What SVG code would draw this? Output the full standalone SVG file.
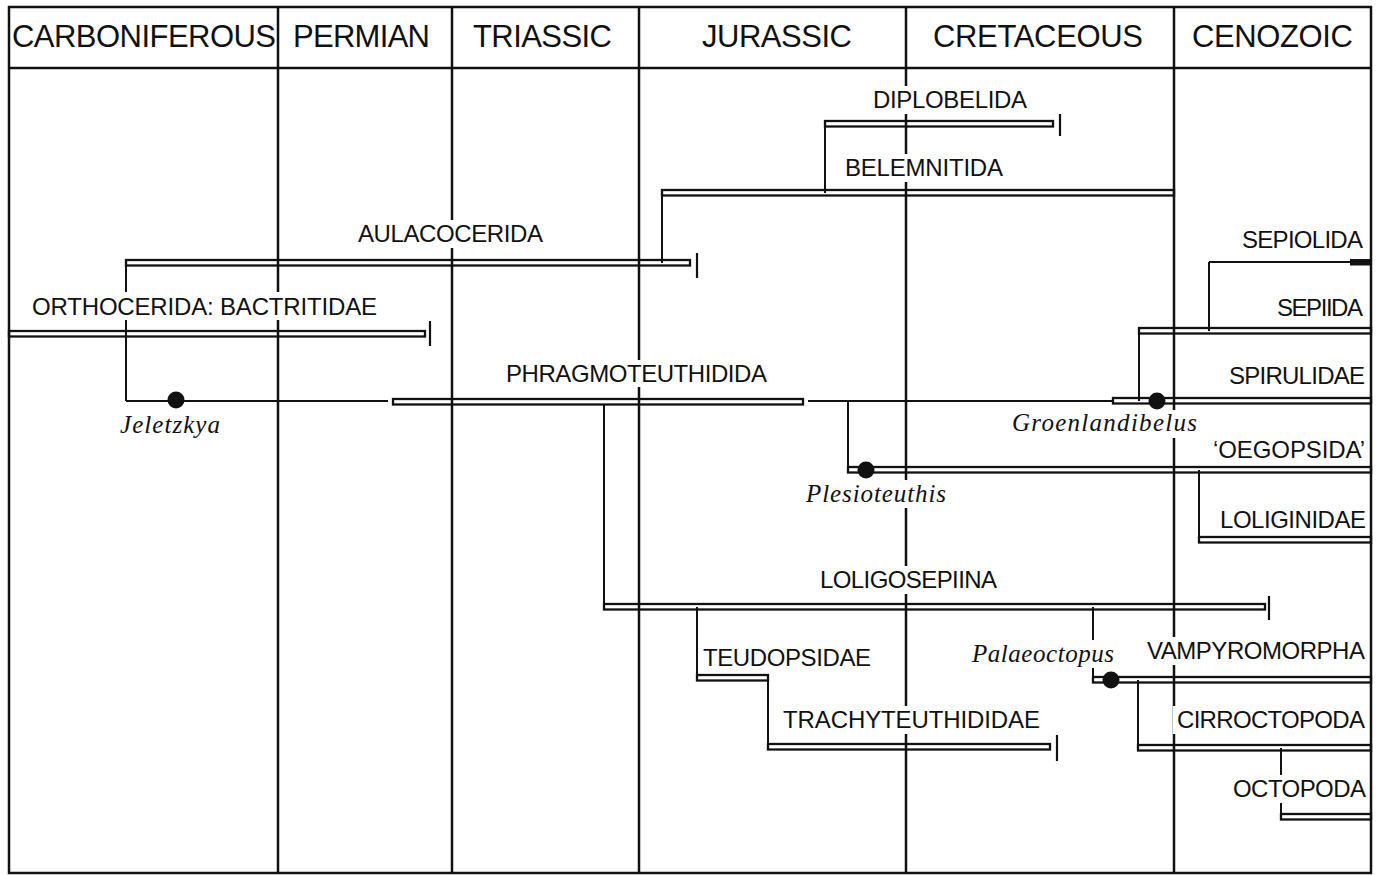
<svg xmlns="http://www.w3.org/2000/svg" width="1378" height="875" viewBox="0 0 1378 875">
<style>
.frame{fill:none;stroke:#111;stroke-width:2.5}
.div{stroke:#111;stroke-width:2.5;fill:none}
.con{stroke:#111;stroke-width:2;fill:none}
.bar{fill:none;stroke:#111;stroke-width:2.3}
.tick{stroke:#111;stroke-width:2.2}
.mask{fill:#fff}
.hd{font-family:"Liberation Sans",Arial,sans-serif;font-size:31px;fill:#111}
.lb{font-family:"Liberation Sans",Arial,sans-serif;font-size:24px;fill:#111}
.it{font-family:"Liberation Serif","Times New Roman",serif;font-style:italic;font-size:25px;fill:#111}
.dot{fill:#111}
</style>
<rect width="1378" height="875" fill="#fff"/>
<g id="timescale">
<rect class="frame" x="9" y="7" width="1362" height="866"/>
<line class="div" x1="9" y1="68" x2="1371" y2="68"/>
<line class="div" x1="278" y1="7" x2="278" y2="873"/>
<line class="div" x1="452" y1="7" x2="452" y2="873"/>
<line class="div" x1="639" y1="7" x2="639" y2="873"/>
<line class="div" x1="906" y1="7" x2="906" y2="873"/>
<line class="div" x1="1174" y1="7" x2="1174" y2="873"/>
<text class="hd" x="12" y="47" textLength="264">CARBONIFEROUS</text>
<text class="hd" x="293" y="47" textLength="137">PERMIAN</text>
<text class="hd" x="473" y="47" textLength="139">TRIASSIC</text>
<text class="hd" x="702" y="47" textLength="150">JURASSIC</text>
<text class="hd" x="933" y="47" textLength="210">CRETACEOUS</text>
<text class="hd" x="1192" y="47" textLength="161">CENOZOIC</text>
</g>
<g id="connectors">
<line class="con" x1="825" y1="124" x2="825" y2="193"/>
<line class="con" x1="662" y1="193" x2="662" y2="263"/>
<line class="con" x1="126" y1="263" x2="126" y2="401"/>
<line class="con" x1="126" y1="401" x2="388" y2="401"/>
<line class="con" x1="808" y1="401" x2="1113" y2="401"/>
<line class="con" x1="604" y1="404" x2="604" y2="607"/>
<line class="con" x1="848" y1="401" x2="848" y2="470"/>
<line class="con" x1="1139" y1="331" x2="1139" y2="401"/>
<line class="con" x1="1209" y1="262" x2="1209" y2="331"/>
<line class="con" x1="1209" y1="262" x2="1350" y2="262"/>
<line class="con" x1="1199" y1="470" x2="1199" y2="540"/>
<line class="con" x1="697" y1="607" x2="697" y2="678"/>
<line class="con" x1="768" y1="678" x2="768" y2="747"/>
<line class="con" x1="1093" y1="607" x2="1093" y2="680"/>
<line class="con" x1="1138" y1="680" x2="1138" y2="748"/>
<line class="con" x1="1281" y1="748" x2="1281" y2="817"/>
</g>
<g id="label-masks">
<rect class="mask" x="870" y="86" width="160" height="28"/>
<rect class="mask" x="842" y="154" width="164" height="28"/>
<rect class="mask" x="355" y="220" width="191" height="28"/>
<rect class="mask" x="29" y="292" width="351" height="28"/>
<rect class="mask" x="503" y="360" width="267" height="27"/>
<rect class="mask" x="1010" y="410" width="190" height="28"/>
<rect class="mask" x="804" y="480" width="144" height="28"/>
<rect class="mask" x="817" y="566" width="183" height="28"/>
<rect class="mask" x="701" y="644" width="172" height="28"/>
<rect class="mask" x="970" y="640" width="146" height="28"/>
<rect class="mask" x="1145" y="637" width="222" height="28"/>
<rect class="mask" x="780" y="706" width="263" height="28"/>
<rect class="mask" x="1173" y="706" width="194" height="28"/>
<rect class="mask" x="1230" y="775" width="138" height="28"/>
</g>
<g id="diplobelida">
<text class="lb" x="873" y="108" textLength="154">DIPLOBELIDA</text>
<rect class="bar" x="825" y="121" width="228" height="5.5"/>
<line class="tick" x1="1060" y1="114" x2="1060" y2="136"/>
</g>
<g id="belemnitida">
<text class="lb" x="845" y="176" textLength="158">BELEMNITIDA</text>
<rect class="bar" x="662" y="190" width="512" height="5.5"/>
</g>
<g id="aulacocerida">
<text class="lb" x="358" y="242" textLength="185">AULACOCERIDA</text>
<rect class="bar" x="126" y="260" width="564" height="5.5"/>
<line class="tick" x1="697" y1="253" x2="697" y2="278"/>
</g>
<g id="orthocerida">
<text class="lb" x="32" y="315" textLength="345">ORTHOCERIDA: BACTRITIDAE</text>
<rect class="bar" x="9" y="331" width="416" height="5.5"/>
<line class="tick" x1="430" y1="321" x2="430" y2="346"/>
</g>
<g id="jeletzkya">
<circle class="dot" cx="176" cy="400" r="8.5"/>
<text class="it" x="120" y="433" textLength="100">Jeletzkya</text>
</g>
<g id="phragmoteuthidida">
<text class="lb" x="506" y="382" textLength="261">PHRAGMOTEUTHIDIDA</text>
<rect class="bar" x="393" y="399" width="410" height="5.5"/>
</g>
<g id="sepiolida">
<text class="lb" x="1242" y="248" textLength="121">SEPIOLIDA</text>
<rect x="1350" y="259" width="21" height="6.5" fill="#111"/>
</g>
<g id="sepiida">
<text class="lb" x="1277" y="316" textLength="86">SEPIIDA</text>
<rect class="bar" x="1139" y="328" width="232" height="5.5"/>
</g>
<g id="spirulidae">
<text class="lb" x="1229" y="384" textLength="136">SPIRULIDAE</text>
<rect class="bar" x="1113" y="398" width="258" height="5.5"/>
</g>
<g id="groenlandibelus">
<circle class="dot" cx="1157" cy="401" r="8.5"/>
<text class="it" x="1012" y="431" textLength="185">Groenlandibelus</text>
</g>
<g id="oegopsida">
<text class="lb" x="1213" y="458" textLength="152">‘OEGOPSIDA’</text>
<rect class="bar" x="848" y="467" width="523" height="5.5"/>
</g>
<g id="plesioteuthis">
<circle class="dot" cx="866" cy="470" r="8.5"/>
<text class="it" x="806" y="502" textLength="140">Plesioteuthis</text>
</g>
<g id="loliginidae">
<text class="lb" x="1220" y="528" textLength="146">LOLIGINIDAE</text>
<rect class="bar" x="1199" y="537" width="172" height="5.5"/>
</g>
<g id="loligosepiina">
<text class="lb" x="820" y="588" textLength="177">LOLIGOSEPIINA</text>
<rect class="bar" x="604" y="604" width="661" height="5.5"/>
<line class="tick" x1="1269" y1="596" x2="1269" y2="620"/>
</g>
<g id="teudopsidae">
<text class="lb" x="703" y="666" textLength="168">TEUDOPSIDAE</text>
<rect class="bar" x="697" y="675" width="71" height="5.5"/>
</g>
<g id="trachyteuthididae">
<text class="lb" x="783" y="728" textLength="257">TRACHYTEUTHIDIDAE</text>
<rect class="bar" x="768" y="744" width="282" height="5.5"/>
<line class="tick" x1="1057" y1="735" x2="1057" y2="761"/>
</g>
<g id="palaeoctopus">
<text class="it" x="972" y="662" textLength="142">Palaeoctopus</text>
<circle class="dot" cx="1111" cy="680" r="8.5"/>
</g>
<g id="vampyromorpha">
<text class="lb" x="1147" y="659" textLength="218">VAMPYROMORPHA</text>
<rect class="bar" x="1093" y="677" width="278" height="5.5"/>
</g>
<g id="cirroctopoda">
<text class="lb" x="1177" y="728" textLength="188">CIRROCTOPODA</text>
<rect class="bar" x="1138" y="745" width="233" height="5.5"/>
</g>
<g id="octopoda">
<text class="lb" x="1233" y="797" textLength="133">OCTOPODA</text>
<rect class="bar" x="1281" y="814" width="90" height="5.5"/>
</g>
</svg>
